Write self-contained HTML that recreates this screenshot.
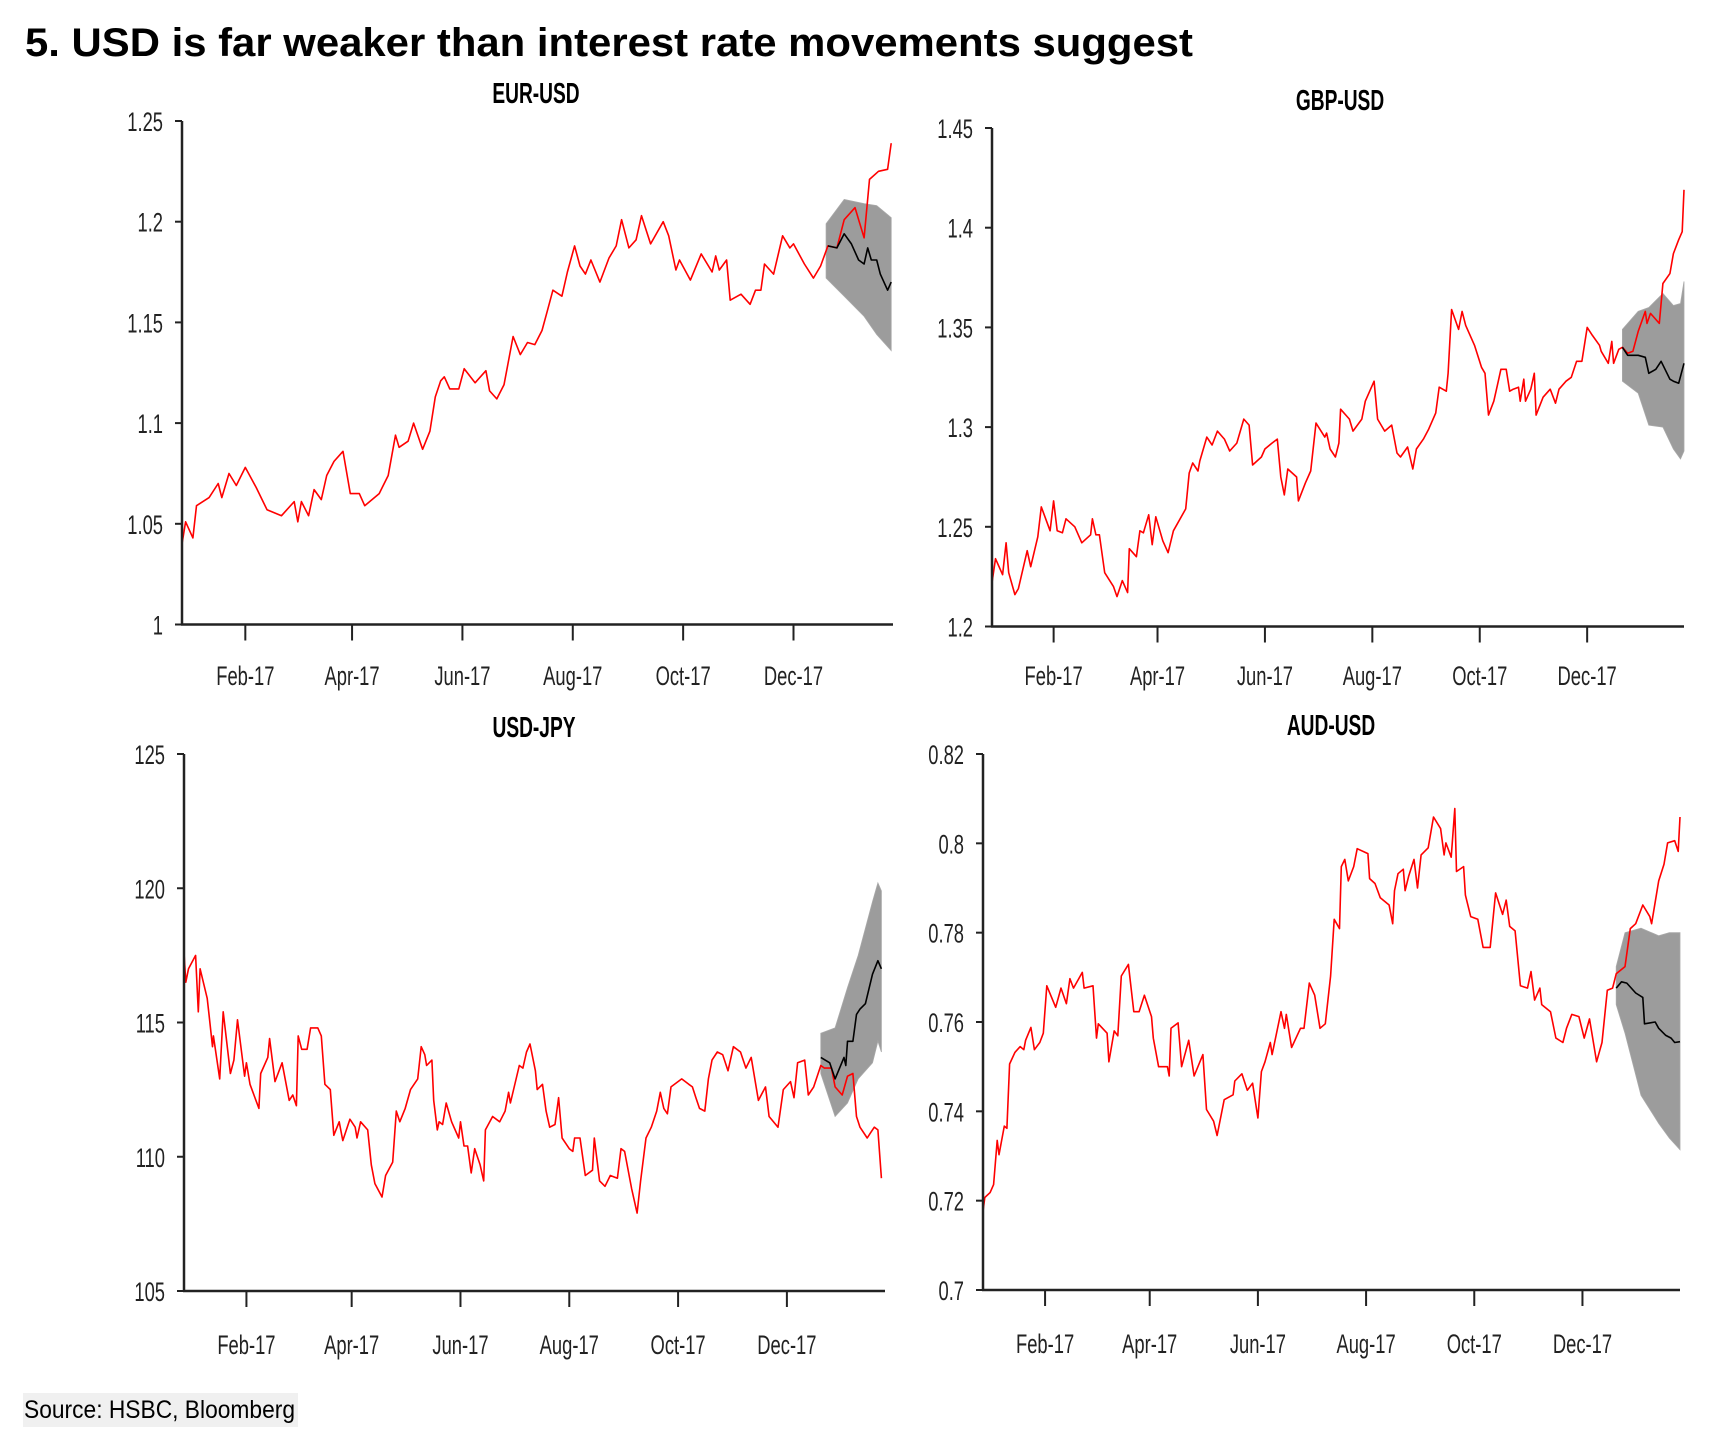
<!DOCTYPE html>
<html><head><meta charset="utf-8">
<style>
html,body{margin:0;padding:0;background:#fff;}
svg{display:block;font-family:"Liberation Sans",Arial,sans-serif;}
</style></head>
<body>
<svg id="chart" width="1713" height="1443" viewBox="0 0 1713 1443" xmlns="http://www.w3.org/2000/svg">
<text x="25" y="56" font-size="40" font-weight="bold" fill="#000" textLength="1168" lengthAdjust="spacingAndGlyphs">5. USD is far weaker than interest rate movements suggest</text>
<rect x="23" y="1393" width="275" height="34" fill="#f0f0f0"/>
<text x="24" y="1418" font-size="25" fill="#000" textLength="271" lengthAdjust="spacingAndGlyphs">Source: HSBC, Bloomberg</text>
</svg>
<script>
// ---- EUR-USD ----
const eurDays=[-4,-2,2,4,11,16,18,22,26,31,37,43,51,58,60,62,66,69,73,76,80,85,89,94,97,105,110,114,116,121,124,129,133,136,139,141,144,149,152,158,164,166,170,174,179,183,187,191,195,198,201,206,209,213,216,219,222,227,232,236,239,243,247,250,255,262,265,269,271,277,283,289,291,293,297,299,305,310,313,316,318,323,328,332,334,340,345,349,353,358,362,368,373,376,381,386,388];
const eurVals=[1.040,1.051,1.043,1.059,1.063,1.070,1.063,1.075,1.069,1.078,1.068,1.057,1.054,1.061,1.051,1.061,1.054,1.067,1.062,1.074,1.081,1.086,1.065,1.065,1.059,1.065,1.074,1.094,1.088,1.091,1.100,1.087,1.096,1.113,1.121,1.123,1.117,1.117,1.127,1.120,1.126,1.116,1.112,1.119,1.143,1.134,1.140,1.139,1.146,1.156,1.166,1.163,1.175,1.188,1.178,1.174,1.181,1.170,1.182,1.188,1.201,1.187,1.191,1.203,1.189,1.200,1.193,1.176,1.181,1.171,1.184,1.175,1.183,1.176,1.181,1.161,1.164,1.159,1.166,1.166,1.179,1.174,1.193,1.187,1.189,1.179,1.172,1.178,1.188,1.187,1.201,1.207,1.192,1.221,1.225,1.226,1.239];
const eurFcDays=[353,358,362,366,370,373,375,377,380,382,386,388];
const eurFcVals=[1.188,1.187,1.194,1.189,1.181,1.179,1.187,1.181,1.181,1.174,1.166,1.170];
const eurBandDays=[352,362,373,380,388];
const eurBandUp=[1.199,1.211,1.209,1.208,1.202];
const eurBandLo=[1.172,1.163,1.153,1.144,1.136];
const eurTicks=[1,1.05,1.1,1.15,1.2,1.25];
const eurTickLabels=["1","1.05","1.1","1.15","1.2","1.25"];

// ---- GBP-USD ----
const gbpDays=[-4,-2,2,4,5.5,9,11,16,18,22,24,29,31,33,36,38,43,47,52,53,55,57,60,65,67,70,73,74,78,80,82,85,87,89,93,96,99,106,108,110,113,114,118,121,124,128,131,135,139,142,144,149,151,155,158,160,162,164,169,170,174,177,180,185,186,188,191,193,194,199,201,206,208,213,215,219,223,226,228,232,235,237,241,244,248,250,254,255,257,261,263,265,270,274,276,278,281,283,285,288,290,292,295,296,298,299,302,304,305,309,313,316,318,322,325,328,331,334,337,341,342,346,348,349,352,354,357,360,363,367,368,370,375,377,381,383,386,388,389];
const gbpVals=[1.222,1.234,1.226,1.242,1.227,1.216,1.219,1.238,1.230,1.245,1.260,1.248,1.263,1.248,1.247,1.254,1.250,1.242,1.246,1.254,1.246,1.246,1.227,1.220,1.215,1.223,1.217,1.239,1.235,1.248,1.247,1.256,1.241,1.255,1.243,1.237,1.248,1.259,1.277,1.282,1.278,1.283,1.295,1.291,1.298,1.294,1.288,1.292,1.304,1.301,1.281,1.285,1.289,1.292,1.294,1.275,1.266,1.279,1.275,1.263,1.272,1.278,1.302,1.295,1.297,1.289,1.285,1.292,1.309,1.304,1.298,1.304,1.313,1.323,1.304,1.298,1.301,1.287,1.285,1.290,1.279,1.289,1.294,1.299,1.307,1.320,1.318,1.327,1.359,1.349,1.358,1.351,1.341,1.330,1.327,1.306,1.313,1.321,1.329,1.329,1.318,1.319,1.320,1.313,1.324,1.313,1.319,1.327,1.306,1.315,1.319,1.312,1.319,1.323,1.325,1.333,1.333,1.350,1.346,1.341,1.338,1.332,1.343,1.332,1.339,1.340,1.337,1.338,1.348,1.358,1.352,1.357,1.352,1.372,1.377,1.387,1.394,1.398,1.419];
const gbpFcDays=[354,357,363,367,369,373,376,381,383,386,389];
const gbpFcVals=[1.340,1.336,1.336,1.335,1.327,1.329,1.333,1.324,1.323,1.322,1.332];
const gbpBandDays=[354,363,369,377,383,387,389];
const gbpBandUp=[1.349,1.358,1.360,1.367,1.361,1.362,1.373];
const gbpBandLo=[1.323,1.317,1.301,1.300,1.289,1.284,1.288];
const gbpTicks=[1.2,1.25,1.3,1.35,1.4,1.45];
const gbpTickLabels=["1.2","1.25","1.3","1.35","1.4","1.45"];

// ---- USD-JPY ----
const jpyDays=[-4,-3,-1.5,2.5,4,5,9,10,12,12.5,16,18,22,24,26,30,31,33,38,39,43,44,47,51,55,57,59,60,62,65,67,71,73,75,78,80,83,85,89,92,93,95,99,101,103,107,109,113,115,117,120,123,127,129,131,132,135,136,138,139,141,143,146,150,151,153,155,157,159,162,164,165,169,173,176,178,179,184,186,188,190,193,194,197,199,201,204,206,208,212,214,215,218,221,225,226,229,232,235,239,241,243,247,250,252,255,258,261,263,265,267,269,275,279,281,283,285,288,290,292,295,298,301,304,308,311,314,318,322,324,329,332,336,338,340,344,346,349,353,355,359,361,365,368,371,373,375,379,381,383,385,387];
const jpyVals=[117.6,116.5,117.0,117.5,115.4,117.0,115.9,115.3,114.1,114.5,112.9,115.4,113.1,113.6,115.1,113.0,113.5,112.7,111.8,113.1,113.7,114.4,112.8,113.5,112.1,112.3,111.9,114.5,114.0,114.0,114.8,114.8,114.5,112.7,112.5,110.8,111.3,110.6,111.4,111.1,110.7,111.3,111.0,109.7,109.0,108.5,109.3,109.8,111.7,111.3,111.8,112.5,112.9,114.1,113.8,113.4,113.6,112.1,111.0,111.3,111.2,112.0,111.3,110.7,111.3,110.4,110.4,109.4,110.3,109.7,109.1,111.0,111.5,111.3,111.7,112.4,112.0,113.4,113.3,113.9,114.2,113.2,112.5,112.7,111.7,111.1,111.2,112.2,110.7,110.3,110.2,110.7,110.7,109.3,109.5,110.7,109.1,108.9,109.3,109.2,110.3,110.2,108.8,107.9,109.1,110.7,111.1,111.7,112.4,111.8,111.6,112.6,112.9,112.7,112.6,112.2,111.8,111.7,112.9,113.6,113.9,113.8,113.2,114.1,113.9,113.3,113.7,112.1,112.6,111.5,111.1,112.5,112.8,112.2,113.5,113.6,112.3,112.6,113.4,113.3,113.3,112.6,112.3,113.0,113.1,111.5,111.1,110.7,110.9,111.1,111.0,109.2];
const jpyFcDays=[353,358,361,366,367,368,371,373,375,378,382,385,387];
const jpyFcVals=[113.7,113.5,112.9,113.7,113.4,114.3,114.3,115.3,115.5,115.7,116.8,117.3,117.0];
const jpyBandDays=[353,361,368,374,382,385,387];
const jpyBandUp=[114.6,114.8,116.3,117.5,119.5,120.2,119.9];
const jpyBandLo=[113.1,111.5,112.0,112.9,113.5,114.3,113.9];
const jpyTicks=[105,110,115,120,125];
const jpyTickLabels=["105","110","115","120","125"];

// ---- AUD-USD ----
const audDays=[-4,-3,0,2,4,5,8,9.5,11,14,17,19,20,23,25,28,30,32,37,40,43,45,47,52,53,58,60,61,66,67,70,72,74,78,81,84,87,91,92,95,100,101,102,106,108,112,115,120,122,126,128,132,137,138,142,145,148,151,153,155,158,159,164,166,167,170,175,177,180,183,186,189,192,194,197,198,200,202,205,207,213,214,217,220,225,227,228,230,233,234,236,239,241,243,247,250,254,256,257,260,262,263,267,268,271,275,278,282,285,289,291,293,296,299,303,305,307,310,311,316,319,323,325,328,332,335,338,342,345,348,351,353,358,361,364,368,372,373,377,380,382,386,388,389];
const audVals=[0.7176,0.7207,0.7218,0.7236,0.7335,0.7303,0.7367,0.7362,0.7506,0.7532,0.7545,0.7538,0.7559,0.7588,0.7538,0.7554,0.7575,0.7681,0.7633,0.7676,0.7641,0.7697,0.7676,0.7711,0.7676,0.7681,0.7564,0.7596,0.7575,0.7511,0.7580,0.7569,0.7703,0.7729,0.7623,0.7623,0.7660,0.7612,0.7564,0.7500,0.7500,0.7479,0.7586,0.7598,0.7500,0.7559,0.7479,0.7527,0.7404,0.7378,0.7346,0.7426,0.7437,0.7468,0.7484,0.7447,0.7463,0.7385,0.7489,0.7511,0.7554,0.7527,0.7623,0.7586,0.7617,0.7543,0.7586,0.7586,0.7687,0.7660,0.7586,0.7596,0.7703,0.7830,0.7809,0.7948,0.7964,0.7916,0.7948,0.7988,0.7977,0.7921,0.7910,0.7878,0.7862,0.7820,0.7894,0.7932,0.7942,0.7894,0.7926,0.7964,0.7900,0.7974,0.7990,0.8059,0.8033,0.7974,0.8001,0.7969,0.8078,0.7937,0.7948,0.7884,0.7836,0.7830,0.7767,0.7767,0.7889,0.7841,0.7873,0.7814,0.7804,0.7681,0.7676,0.7713,0.7649,0.7676,0.7639,0.7623,0.7564,0.7554,0.7586,0.7617,0.7612,0.7564,0.7607,0.7511,0.7554,0.7671,0.7676,0.7708,0.7724,0.7809,0.7820,0.7862,0.7836,0.7820,0.7916,0.7953,0.8001,0.8006,0.7982,0.8059];
const audFcDays=[353,356,359,364,368,369,375,377,381,384,386,389];
const audFcVals=[0.7676,0.7690,0.7687,0.7665,0.7655,0.7596,0.7600,0.7586,0.7570,0.7564,0.7554,0.7556];
const audBandDays=[353,358,367,377,383,389];
const audBandUp=[0.7724,0.7800,0.7810,0.7793,0.7800,0.7800];
const audBandLo=[0.7639,0.7575,0.7436,0.7373,0.7340,0.7314];
const audTicks=[0.7,0.72,0.74,0.76,0.78,0.8,0.82];
const audTickLabels=["0.7","0.72","0.74","0.76","0.78","0.8","0.82"];

// ---- shared x axis ----
const monthTickDays=[31,90,151,212,273,334];
const monthTickLabels=["Feb-17","Apr-17","Jun-17","Aug-17","Oct-17","Dec-17"];
const dayMin=-4, dayMax=389;

const NS="http://www.w3.org/2000/svg";
const svg=document.getElementById('chart');
function mk(tag,attrs,parent){const e=document.createElementNS(NS,tag);for(const k in attrs)e.setAttribute(k,attrs[k]);(parent||svg).appendChild(e);return e;}
function condense(t,f){const w=t.getComputedTextLength();t.setAttribute('textLength',(w*f).toFixed(1));t.setAttribute('lengthAdjust','spacingAndGlyphs');}

function panel(p){
  const g=mk('g',{});
  
  
  const xs=d=>p.x0+(d-dayMin)/(dayMax-dayMin)*(p.x1-p.x0);
  const ys=v=>p.yb+(v-p.vmin)/(p.vmax-p.vmin)*(p.yt-p.yb);
  let pts=[];
  for(let i=0;i<p.bd.length;i++)pts.push(xs(p.bd[i]).toFixed(1)+','+ys(p.bu[i]).toFixed(1));
  for(let i=p.bd.length-1;i>=0;i--)pts.push(xs(p.bd[i]).toFixed(1)+','+ys(p.bl[i]).toFixed(1));
  const band=mk('polygon',{points:pts.join(' '),fill:'#9c9c9c',stroke:'#a8a8a8','stroke-width':'0.8'},g);
  
  
  const a=p.days.map((d,i)=>xs(d).toFixed(1)+','+ys(p.vals[i]).toFixed(1)).join(' ');
  const line=mk('polyline',{points:a,fill:'none',stroke:'#ff0000','stroke-width':'1.6','stroke-linejoin':'round'},g);
  
  
  const f=p.fd.map((d,i)=>xs(d).toFixed(1)+','+ys(p.fv[i]).toFixed(1)).join(' ');
  const fl=mk('polyline',{points:f,fill:'none',stroke:'#000','stroke-width':'1.6','stroke-linejoin':'round'},g);
  
  
  const ya=mk('line',{x1:p.x0,y1:p.yt,x2:p.x0,y2:p.yb+1,stroke:'#222','stroke-width':'2.5'},g);
  
  
  const xa=mk('line',{x1:p.x0-1,y1:p.yb,x2:p.x1,y2:p.yb,stroke:'#222','stroke-width':'2.5'},g);
  
  
  p.ticks.forEach((v,i)=>{
    const y=ys(v);
    const tk=mk('line',{x1:p.x0-7,y1:y,x2:p.x0,y2:y,stroke:'#222','stroke-width':'2'},g);
    
    
    const t=mk('text',{x:p.x0-19,y:y+10,'font-size':'27','text-anchor':'end',fill:'#222'},g);
    t.textContent=p.tl[i];
    
    
    condense(t,0.68);
  });
  monthTickDays.forEach((d,i)=>{
    const x=xs(d);
    const tk=mk('line',{x1:x,y1:p.yb,x2:x,y2:p.yb+16,stroke:'#222','stroke-width':'2'},g);
    
    
    const t=mk('text',{x:x,y:p.lblY,'font-size':'27','text-anchor':'middle',fill:'#222'},g);
    t.textContent=monthTickLabels[i];
    
    
    condense(t,0.68);
  });
  const tt=mk('text',{x:p.tx,y:p.ty,'font-size':'29','font-weight':'bold','text-anchor':'middle',fill:'#000'},g);
  tt.textContent=p.title;
  
  
  condense(tt,0.66);
}

panel({key:'eur-usd',title:'EUR-USD',tx:536,ty:103,x0:182,x1:893,yt:121,yb:624.5,vmin:1,vmax:1.25,lblY:685,
  days:eurDays,vals:eurVals,fd:eurFcDays,fv:eurFcVals,bd:eurBandDays,bu:eurBandUp,bl:eurBandLo,ticks:eurTicks,tl:eurTickLabels});
panel({key:'gbp-usd',title:'GBP-USD',tx:1340,ty:110,x0:992,x1:1684,yt:128,yb:626.5,vmin:1.2,vmax:1.45,lblY:685,
  days:gbpDays,vals:gbpVals,fd:gbpFcDays,fv:gbpFcVals,bd:gbpBandDays,bu:gbpBandUp,bl:gbpBandLo,ticks:gbpTicks,tl:gbpTickLabels});
panel({key:'usd-jpy',title:'USD-JPY',tx:534,ty:737,x0:184,x1:885,yt:754,yb:1291,vmin:105,vmax:125,lblY:1354,
  days:jpyDays,vals:jpyVals,fd:jpyFcDays,fv:jpyFcVals,bd:jpyBandDays,bu:jpyBandUp,bl:jpyBandLo,ticks:jpyTicks,tl:jpyTickLabels});
panel({key:'aud-usd',title:'AUD-USD',tx:1331,ty:735,x0:983,x1:1680,yt:754,yb:1290,vmin:0.7,vmax:0.82,lblY:1353,
  days:audDays,vals:audVals,fd:audFcDays,fv:audFcVals,bd:audBandDays,bu:audBandUp,bl:audBandLo,ticks:audTicks,tl:audTickLabels});
</script>
</body></html>
